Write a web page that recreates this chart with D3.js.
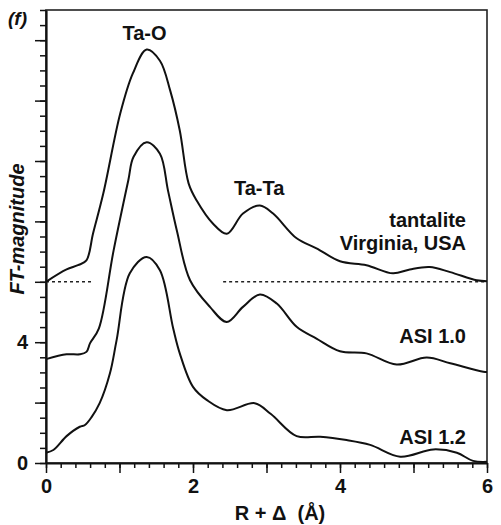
<!DOCTYPE html>
<html>
<head>
<meta charset="utf-8">
<script src="https://cdn.jsdelivr.net/npm/d3@7"></script>
<style>
  body { margin: 0; background: #fff; }
  svg text { font-family: "Liberation Sans", Arial, sans-serif; font-weight: bold; fill: #111; }
  .axis path, .axis line { stroke: #111; }
</style>
</head>
<body>
<div id="graph"></div>
<script>
// R + delta positions (A) and FT magnitudes
var tantaliteR  = [0, 0.28, 0.435, 0.55, 0.64, 0.78, 1.01, 1.18, 1.37, 1.55, 1.69, 1.82, 1.94, 2.05, 2.27, 2.46, 2.68, 2.91, 3.09, 3.41, 3.68, 4.0, 4.36, 4.72, 4.95, 5.22, 5.5, 5.86, 6.0]
var tantaliteFT = [6.0, 6.41, 6.55, 6.71, 7.6, 8.93, 11.57, 12.89, 13.69, 13.32, 12.33, 11.01, 9.26, 8.69, 7.93, 7.59, 8.26, 8.53, 8.26, 7.44, 7.11, 6.68, 6.55, 6.28, 6.41, 6.49, 6.32, 6.05, 6.02]

var asi10R  = [0, 0.28, 0.46, 0.55, 0.6, 0.72, 0.92, 1.12, 1.19, 1.37, 1.55, 1.66, 1.78, 1.96, 2.23, 2.46, 2.68, 2.91, 3.14, 3.41, 3.68, 4.0, 4.36, 4.77, 5.18, 5.5, 5.95, 6.0]
var asi10FT = [3.44, 3.6, 3.6, 3.68, 3.97, 4.46, 7.04, 9.36, 10.13, 10.62, 10.24, 9.02, 7.7, 6.05, 5.17, 4.67, 5.17, 5.58, 5.28, 4.51, 4.12, 3.7, 3.63, 3.26, 3.49, 3.3, 3.02, 3.01]

var asi12R  = [0, 0.1, 0.28, 0.46, 0.53, 0.62, 0.73, 0.87, 0.96, 1.14, 1.37, 1.55, 1.73, 1.82, 2.0, 2.19, 2.46, 2.84, 3.06, 3.41, 3.73, 4.09, 4.41, 4.82, 5.27, 5.59, 5.81, 6.0]
var asi12FT = [0.34, 0.43, 0.89, 1.2, 1.26, 1.52, 1.98, 2.97, 4.06, 6.28, 6.82, 6.38, 4.46, 3.63, 2.52, 2.08, 1.75, 1.98, 1.62, 0.89, 0.87, 0.76, 0.6, 0.21, 0.45, 0.34, 0.07, 0.04]

var seriesNames = ['tantalite', 'ASI 1.0', 'ASI 1.2']
var baseline = 6            // dotted zero line of the offset tantalite curve
var baselineSegments = [[0, 0.62], [2.41, 6]]

var xMajor = [0, 1, 2, 3, 4, 5, 6]
var xLabels = {0: '0', 2: '2', 4: '4', 6: '6'}
var yMajor = [0, 2, 4, 6, 8, 10, 12, 14]
var yLabels = {0: '0', 4: '4'}

var margin = {top: 10, right: 14, bottom: 62, left: 46},
    width = 501 - margin.left - margin.right,
    height = 525 - margin.top - margin.bottom

var x = d3.scaleLinear().domain([0, 6]).range([0, width])
var y = d3.scaleLinear().domain([0, 15]).range([height, 0])

var svg = d3.select('#graph')
  .append('svg')
  .attr('width', 501)
  .attr('height', 525)

var g = svg.append('g')
  .attr('transform', 'translate(' + margin.left + ',' + margin.top + ')')

// frame
g.append('rect')
  .attr('width', width)
  .attr('height', height)
  .attr('fill', 'none')
  .attr('stroke', '#222')
  .attr('stroke-width', 1.6)

// x axis: minor then major ticks
g.append('g')
  .attr('class', 'axis')
  .attr('transform', 'translate(0,' + height + ')')
  .call(d3.axisBottom(x).tickValues(d3.range(0, 6.001, 0.2)).tickSize(5).tickFormat(''))
  .call(s => s.select('.domain').remove())
  .selectAll('line').attr('stroke-width', 1.5)

var xAxis = g.append('g')
  .attr('class', 'axis')
  .attr('transform', 'translate(0,' + height + ')')
  .call(d3.axisBottom(x).tickValues(xMajor).tickSize(10).tickSizeOuter(0).tickPadding(6)
    .tickFormat(d => xLabels[d] || ''))
xAxis.select('.domain').attr('stroke-width', 2)
xAxis.selectAll('line').attr('stroke-width', 1.5)
xAxis.selectAll('text').style('font-size', '20px')

// y axis
g.append('g')
  .attr('class', 'axis')
  .call(d3.axisLeft(y).tickValues(d3.range(0, 15.001, 0.5)).tickSize(6).tickFormat(''))
  .call(s => s.select('.domain').remove())
  .selectAll('line').attr('stroke-width', 1.5)

var yAxis = g.append('g')
  .attr('class', 'axis')
  .call(d3.axisLeft(y).tickValues(yMajor).tickSize(11).tickSizeOuter(0).tickPadding(7)
    .tickFormat(d => yLabels[d] || ''))
yAxis.select('.domain').attr('stroke-width', 2.2)
yAxis.selectAll('line').attr('stroke-width', 1.5)
yAxis.selectAll('text').style('font-size', '20px')

// dotted baseline
g.selectAll('.base')
  .data(baselineSegments)
  .enter().append('line')
  .attr('class', 'base')
  .attr('x1', d => x(d[0]))
  .attr('x2', d => x(d[1]))
  .attr('y1', y(baseline))
  .attr('y2', y(baseline))
  .attr('stroke', '#222')
  .attr('stroke-width', 1.5)
  .attr('stroke-dasharray', '3,3')

var curves = [
  {name: seriesNames[0], r: tantaliteR, ft: tantaliteFT},
  {name: seriesNames[1], r: asi10R, ft: asi10FT},
  {name: seriesNames[2], r: asi12R, ft: asi12FT}
]

var line = d3.line()
  .x(d => x(d[0]))
  .y(d => y(d[1]))
  .curve(d3.curveCatmullRom.alpha(0.5))

g.selectAll('.curve')
  .data(curves)
  .enter().append('path')
  .attr('class', 'curve')
  .attr('fill', 'none')
  .attr('stroke', '#111')
  .attr('stroke-width', 2)
  .attr('d', d => line(d.r.map((v, i) => [v, d.ft[i]])))

// annotations
function label(txt, px, py, anchor) {
  svg.append('text')
    .attr('x', px)
    .attr('y', py)
    .attr('text-anchor', anchor)
    .style('font-size', '20px')
    .style('white-space', 'pre')
    .text(txt)
}
label('Ta-O', margin.left + x(1.34), 40, 'middle')
label('Ta-Ta', margin.left + x(2.9), 195, 'middle')
label('tantalite', 466, 227, 'end')
label('Virginia, USA', 466, 250, 'end')
label('ASI 1.0', 466, 343, 'end')
label('ASI 1.2', 466, 444, 'end')
label('R + \u0394  (\u00c5)', 280, 520, 'middle')

svg.append('text')
  .attr('x', 8)
  .attr('y', 25)
  .style('font-size', '19px')
  .style('font-style', 'italic')
  .text('(f)')

svg.append('text')
  .attr('transform', 'translate(24,229) rotate(-90)')
  .attr('text-anchor', 'middle')
  .style('font-size', '20px')
  .style('font-style', 'italic')
  .text('FT-magnitude')
</script>
</body>
</html>
